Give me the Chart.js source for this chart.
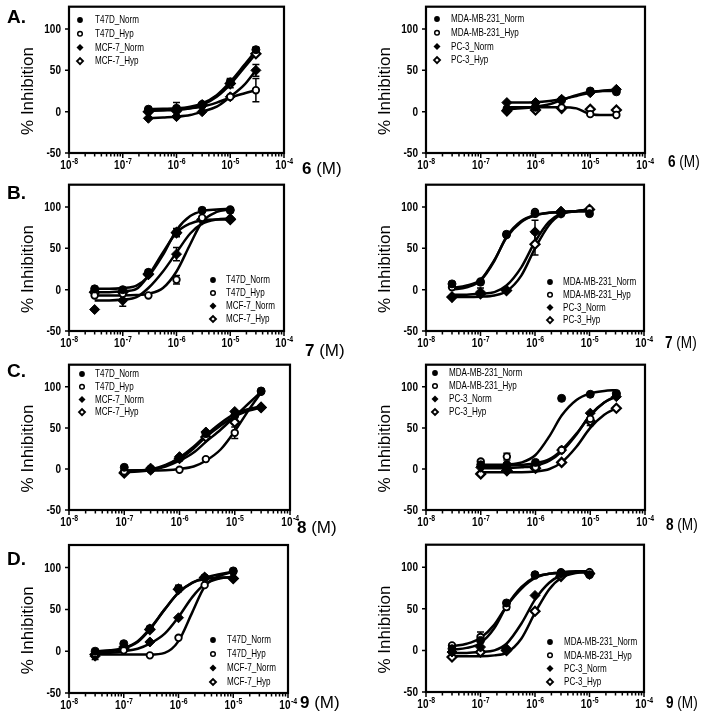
<!DOCTYPE html>
<html>
<head>
<meta charset="utf-8">
<script src="https://cdn.jsdelivr.net/npm/chart.js@4/dist/chart.umd.min.js"></script>
<style>
  body { margin: 0; background: #fff; width: 706px; height: 720px; position: relative; overflow: hidden; }
  canvas { position: absolute; }
</style>
</head>
<body>
<script>
// legends
const seriesL = ['T47D_Norm', 'T47D_Hyp', 'MCF-7_Norm', 'MCF-7_Hyp'];
const seriesR = ['MDA-MB-231_Norm', 'MDA-MB-231_Hyp', 'PC-3_Norm', 'PC-3_Hyp'];

// axis ticks
const decadeTicks = [1e-8, 1e-7, 1e-6, 1e-5, 1e-4];
const minorSteps = [2, 3, 4, 5, 6, 7, 8, 9];
const yTicks = [-50, 0, 50, 100];

const xA = [3e-7, 1e-6, 3e-6, 1e-5, 3e-5];
const cxA = [3e-7, 5.6e-7, 1e-6, 1.8e-6, 3e-6, 5.6e-6, 1e-5, 1.8e-5, 3e-5];
const xB = [3e-8, 1e-7, 3e-7, 1e-6, 3e-6, 1e-5];
const cxB = [3e-8, 5.6e-8, 1e-7, 1.8e-7, 3e-7, 5.6e-7, 1e-6, 1.8e-6, 3e-6, 5.6e-6, 1e-5];
const xC = [1e-7, 3e-7, 1e-6, 3e-6, 1e-5, 3e-5];
const cxC = [1e-7, 1.8e-7, 3e-7, 5.6e-7, 1e-6, 1.8e-6, 3e-6, 5.6e-6, 1e-5, 1.8e-5, 3e-5];
const xD = xB;
const cxD = cxB;

// % inhibition, rows follow the legend order
const a1Pts = [[3, 4, 8, 36, 75], [2, 3, 9, 18, 26], [-8, -6, 0, 18, 50], [0, 1, 8, 34, 70]];
const a1Err = [[0, 0, 3, 4, 3], [1, 8, 0, 0, 14], [0, 0, 0, 0, 7], [0, 0, 0, 5, 0]];
const a1Fit = [[3, 3.5, 4, 6, 10, 20, 36, 56, 74], [2, 2.5, 3, 4, 6, 11, 17, 22, 26],
               [-8, -7, -6, -4, 0, 6, 18, 32, 50], [1, 1.5, 2, 4, 8, 18, 33, 53, 70]];

const a2Pts = [[2, 6, 14, 25, 24], [4, 5, 5, -3, -4], [11, 11, 15, 23, 27], [1, 2, 4, 3, 2]];
const a2Err = [[0, 0, 0, 0, 0], [0, 0, 0, 0, 0], [0, 0, 0, 0, 0], [0, 0, 0, 0, 0]];
const a2Fit = [[3, 4, 6, 9, 14, 20, 24, 25, 25], [5, 5.5, 5.5, 5.5, 5.5, 4, -3, -4, -4],
               [11, 11, 11.5, 13, 15, 19, 23, 25.5, 26.5], []];

const b1Pts = [[1, 0, 21, 69, 96, 96], [-7, -5, -7, 12, 87, 97], [-24, -13, 18, 43, 85, 86], [-3, -3, 19, 69, 85, 85]];
const b1Err = [[0, 0, 3, 5, 2, 0], [0, 0, 0, 5, 0, 0], [0, 7, 0, 8, 0, 0], [0, 0, 0, 0, 0, 0]];
const b1Fit = [[1, 1, 2, 5, 16, 42, 72, 89, 95, 97, 98], [-7, -7, -7, -6.5, -5, 2, 22, 55, 82, 94, 97],
               [-13, -13, -12, -9, 2, 22, 45, 68, 80, 85, 86], [-3, -3, -2, 1, 17, 45, 69, 80, 84, 85, 85]];

const b2Pts = [[7, 9, 67, 92, 92, 92], [3, 10, 66, 94, 93, 97], [-9, -3, -1, 70, 95, 97], [-9, -5, -1, 55, 93, 97]];
const b2Err = [[0, 0, 3, 0, 0, 0], [0, 0, 0, 0, 0, 0], [0, 5, 0, 14, 0, 0], [0, 0, 0, 13, 0, 0]];
const b2Fit = [[0, 3, 11, 35, 64, 83, 90, 93, 94, 95, 95], [2, 5, 12, 36, 63, 82, 90, 93, 94, 95, 95],
               [-6, -6, -5, -3, 5, 27, 58, 82, 92, 95, 97], [-9, -9, -8.5, -7, -2, 17, 50, 78, 91, 95, 97]];

const c1Pts = [[2, 0, 13, 43, 65, 95], [-3, -1, -1, 12, 44, 94], [-4, 1, 15, 45, 70, 75], [-5, -1, 13, 39, 57, 75]];
const c1Err = [[0, 0, 0, 0, 0, 0], [0, 0, 0, 0, 7, 0], [0, 0, 0, 0, 0, 0], [0, 0, 0, 0, 0, 0]];
const c1Fit = [[-2, -1.5, -1, 3, 10, 20, 33, 48, 64, 80, 94], [-2, -2, -2, -1.5, 0, 3, 10, 24, 46, 72, 93],
               [-3, -2, -0.5, 5, 14, 27, 41, 56, 67, 73, 76], [-4, -3, -1.5, 4, 12, 25, 39, 53, 64, 71, 75]];

const c2Pts = [[5, 5, 8, 86, 91, 92], [9, 15, 2, 23, 61, 91], [2, -2, 4, 23, 68, 88], [-6, -2, 1, 8, 58, 74]];
const c2Err = [[0, 0, 0, 0, 0, 0], [0, 4, 0, 0, 8, 0], [0, 0, 0, 0, 0, 0], [0, 0, 0, 0, 0, 0]];
const c2Fit = [[5, 5, 5.5, 8, 17, 40, 65, 84, 92, 95, 96], [4, 4, 4, 5, 7, 12, 23, 43, 65, 81, 89],
               [1, 1, 1, 2, 4, 10, 21, 42, 66, 81, 88], [-4, -4, -4, -4, -3, 0, 8, 27, 50, 66, 74]];

const d1Pts = [[0, 9, 27, 75, 88, 96], [-3, 1, -5, 16, 79, 95], [-6, 5, 11, 40, 88, 87], [-4, 3, 26, 74, 88, 87]];
const d1Err = [[0, 2, 0, 4, 0, 0], [0, 0, 0, 0, 0, 0], [4, 0, 0, 0, 0, 0], [0, 0, 0, 0, 0, 0]];
const d1Fit = [[0, 1, 4, 12, 27, 50, 70, 82, 88, 92, 95], [-4, -4, -4, -4, -4, -2, 12, 47, 77, 90, 95],
               [-3, -2, 0, 3, 9, 21, 41, 65, 80, 87, 89], [-1, 0, 3, 11, 26, 50, 70, 82, 86, 88, 88]];

const d2Pts = [[2, 12, 57, 91, 93, 91], [6, 16, 52, 90, 94, 94], [-2, 4, 2, 66, 92, 93], [-8, -2, 0, 47, 89, 92]];
const d2Err = [[0, 0, 0, 0, 0, 0], [0, 6, 3, 0, 0, 0], [0, 0, 0, 0, 0, 0], [0, 0, 0, 0, 0, 0]];
const d2Fit = [[1, 3, 9, 27, 53, 76, 88, 92, 93, 94, 94], [5, 8, 15, 31, 53, 74, 87, 92, 94, 95, 95],
               [-3, -3, -2, 0, 8, 32, 61, 81, 90, 94, 95], [-7, -7, -7, -6, -3, 14, 45, 73, 87, 93, 94]];

const FONT = "'Liberation Sans', Arial, sans-serif";
const SX = 0.77; // figure text is squeezed horizontally

// filled circle, open circle, filled diamond, open diamond
const markers = [
  { style: 'circle', r: 4, fill: '#000', bw: 1 },
  { style: 'circle', r: 3.3, fill: '#fff', bw: 1.8 },
  { style: 'rectRot', r: 5, fill: '#000', bw: 1 },
  { style: 'rectRot', r: 4.5, fill: '#fff', bw: 2.2 }
];

const panels = [
  { left: 0, top: 0, area: [69, 5, 284, 153], letter: 'A.', letterY: 23, cmp: '6', cmpX: 302, cmpY: 174, cmpSx: 1,
    names: seriesL, leg: [80, 95, 20, 13.7], x: xA, cx: cxA, pts: a1Pts, err: a1Err, fit: a1Fit },
  { left: 353, top: 0, area: [73, 5, 292, 153], cmp: '6', cmpX: 315, cmpY: 167, cmpSx: 0.8,
    names: seriesR, leg: [84, 98, 19, 13.7], x: xA, cx: cxA, pts: a2Pts, err: a2Err, fit: a2Fit },
  { left: 0, top: 178, area: [69, 5, 284, 153], letter: 'B.', letterY: 21, cmp: '7', cmpX: 305, cmpY: 178, cmpSx: 1,
    names: seriesL, leg: [213, 226, 102, 13], x: xB, cx: cxB, pts: b1Pts, err: b1Err, fit: b1Fit },
  { left: 353, top: 178, area: [73, 5, 291, 153], cmp: '7', cmpX: 312, cmpY: 170, cmpSx: 0.8,
    names: seriesR, leg: [197, 210, 104, 12.7], x: xB, cx: cxB, pts: b2Pts, err: b2Err, fit: b2Fit },
  { left: 0, top: 358, area: [69, 4, 290, 152], letter: 'C.', letterY: 19, cmp: '8', cmpX: 297, cmpY: 175, cmpSx: 1,
    names: seriesL, leg: [82, 95, 16, 12.7], x: xC, cx: cxC, pts: c1Pts, err: c1Err, fit: c1Fit },
  { left: 353, top: 358, area: [73, 4, 292, 152], cmp: '8', cmpX: 313, cmpY: 172, cmpSx: 0.8,
    names: seriesR, leg: [82, 96, 15, 13], x: xC, cx: cxC, pts: c2Pts, err: c2Err, fit: c2Fit },
  { left: 0, top: 538, area: [69, 7, 288, 155], letter: 'D.', letterY: 27, cmp: '9', cmpX: 300, cmpY: 170, cmpSx: 1,
    names: seriesL, leg: [213, 227, 102, 14], x: xD, cx: cxD, pts: d1Pts, err: d1Err, fit: d1Fit },
  { left: 353, top: 538, area: [73, 6, 291, 154], cmp: '9', cmpX: 313, cmpY: 170, cmpSx: 0.8,
    names: seriesR, leg: [197, 211, 104, 13.3], x: xD, cx: cxD, pts: d2Pts, err: d2Err, fit: d2Fit }
];

function squeezed(ctx, s, x, y, font, align, sx) {
  ctx.save();
  ctx.font = font;
  ctx.translate(x, y);
  ctx.scale(sx || SX, 1);
  ctx.textAlign = align;
  ctx.fillText(s, 0, 0);
  ctx.restore();
}

function legendMark(ctx, i, x, y) {
  ctx.save();
  ctx.fillStyle = '#000';
  ctx.strokeStyle = '#000';
  ctx.beginPath();
  if (i < 2) ctx.arc(x, y, i === 0 ? 2.9 : 2.3, 0, Math.PI * 2);
  else {
    const r = i === 2 ? 3.5 : 3;
    ctx.moveTo(x - r, y); ctx.lineTo(x, y - r); ctx.lineTo(x + r, y); ctx.lineTo(x, y + r); ctx.closePath();
  }
  if (i % 2 === 0) ctx.fill();
  else { ctx.lineWidth = i === 1 ? 1.5 : 1.9; ctx.fillStyle = '#fff'; ctx.fill(); ctx.stroke(); }
  ctx.restore();
}

const decor = {
  id: 'decor',
  beforeDatasetsDraw(chart, args, o) {
    const ctx = chart.ctx, xs = chart.scales.x, ys = chart.scales.y;
    ctx.save();
    ctx.strokeStyle = '#000';
    ctx.lineWidth = 1.5;
    o.p.err.forEach((row, i) => row.forEach((e, k) => {
      if (!e) return;
      const x = xs.getPixelForValue(o.p.x[k]);
      const y1 = ys.getPixelForValue(o.p.pts[i][k] - e);
      const y2 = ys.getPixelForValue(o.p.pts[i][k] + e);
      ctx.beginPath();
      ctx.moveTo(x, y1); ctx.lineTo(x, y2);
      ctx.moveTo(x - 3.5, y1); ctx.lineTo(x + 3.5, y1);
      ctx.moveTo(x - 3.5, y2); ctx.lineTo(x + 3.5, y2);
      ctx.stroke();
    }));
    ctx.restore();
  },
  afterDraw(chart, args, o) {
    const p = o.p;
    const ctx = chart.ctx, a = chart.chartArea, xs = chart.scales.x, ys = chart.scales.y;
    ctx.save();
    ctx.strokeStyle = '#000';
    ctx.fillStyle = '#000';

    // frame
    ctx.lineWidth = 2.2;
    ctx.strokeRect(a.left, a.top, a.right - a.left, a.bottom - a.top);

    // x ticks (decades + minor)
    ctx.lineWidth = 1.5;
    ctx.beginPath();
    decadeTicks.forEach(d => {
      const x = xs.getPixelForValue(d);
      ctx.moveTo(x, a.bottom); ctx.lineTo(x, a.bottom + 5);
      if (d < 1e-4) minorSteps.forEach(m => {
        const xm = xs.getPixelForValue(d * m);
        ctx.moveTo(xm, a.bottom); ctx.lineTo(xm, a.bottom + 3.5);
      });
    });
    // y ticks
    yTicks.forEach(v => {
      const y = ys.getPixelForValue(v);
      ctx.moveTo(a.left, y); ctx.lineTo(a.left - 4, y);
    });
    ctx.stroke();

    // x tick labels 10^n
    ctx.textBaseline = 'alphabetic';
    decadeTicks.forEach(d => {
      const x = xs.getPixelForValue(d);
      const sup = String(Math.round(Math.log10(d)));
      ctx.font = 'bold 13px ' + FONT;
      const w1 = ctx.measureText('10').width * SX;
      ctx.font = 'bold 9px ' + FONT;
      const w2 = ctx.measureText(sup).width * SX;
      const x0 = x - (w1 + w2) / 2;
      squeezed(ctx, '10', x0, a.bottom + 16, 'bold 13px ' + FONT, 'left');
      squeezed(ctx, sup, x0 + w1 + 0.5, a.bottom + 11, 'bold 9px ' + FONT, 'left');
    });

    // y tick labels
    ctx.textBaseline = 'middle';
    yTicks.forEach(v => {
      squeezed(ctx, String(v), a.left - 8, ys.getPixelForValue(v) + 0.5, 'bold 13px ' + FONT, 'right');
    });

    // y title
    ctx.save();
    ctx.translate(a.left - 41, ys.getPixelForValue(25));
    ctx.rotate(-Math.PI / 2);
    ctx.font = '17px ' + FONT;
    ctx.textAlign = 'center';
    ctx.fillText('% Inhibition', 0, 0);
    ctx.restore();

    // compound label "n (M)"
    ctx.textBaseline = 'alphabetic';
    ctx.font = 'bold 17px ' + FONT;
    const wc = ctx.measureText(p.cmp).width * p.cmpSx;
    squeezed(ctx, p.cmp, p.cmpX, p.cmpY, 'bold 17px ' + FONT, 'left', p.cmpSx);
    squeezed(ctx, ' (M)', p.cmpX + wc, p.cmpY, '17px ' + FONT, 'left', p.cmpSx);

    // panel letter
    if (p.letter) {
      ctx.textAlign = 'left';
      ctx.font = 'bold 19px ' + FONT;
      ctx.fillText(p.letter, 7, p.letterY);
    }

    // legend
    ctx.textBaseline = 'middle';
    p.names.forEach((n, i) => {
      const y = p.leg[2] + i * p.leg[3];
      legendMark(ctx, i, p.leg[0], y);
      squeezed(ctx, n, p.leg[1], y + 0.5, '10.5px ' + FONT, 'left');
    });
    ctx.restore();
  }
};

panels.forEach(p => {
  const cv = document.createElement('canvas');
  cv.width = 353;
  cv.height = 182;
  cv.style.left = p.left + 'px';
  cv.style.top = p.top + 'px';
  document.body.appendChild(cv);

  const datasets = [];
  p.pts.forEach((ys, i) => {
    const m = markers[i];
    datasets.push({
      data: ys.map((y, k) => ({ x: p.x[k], y })),
      showLine: false,
      pointStyle: m.style,
      pointRadius: m.r,
      pointBackgroundColor: m.fill,
      pointBorderColor: '#000',
      pointBorderWidth: m.bw,
      order: 1
    });
    datasets.push({
      data: p.fit[i].map((y, k) => ({ x: p.cx[k], y })),
      borderColor: '#000',
      borderWidth: 2.5,
      pointRadius: 0,
      fill: false,
      cubicInterpolationMode: 'monotone',
      order: 2
    });
  });

  new Chart(cv, {
    type: 'line',
    data: { datasets },
    plugins: [decor],
    options: {
      responsive: false,
      animation: false,
      devicePixelRatio: 1,
      events: [],
      layout: {
        padding: { left: p.area[0], top: p.area[1], right: 353 - p.area[2], bottom: 182 - p.area[3] }
      },
      scales: {
        x: { type: 'logarithmic', min: 1e-8, max: 1e-4, display: false },
        y: { type: 'linear', min: -50, max: 127, display: false }
      },
      plugins: {
        legend: { display: false },
        tooltip: { enabled: false },
        decor: { p }
      }
    }
  });
});
</script>
</body>
</html>
